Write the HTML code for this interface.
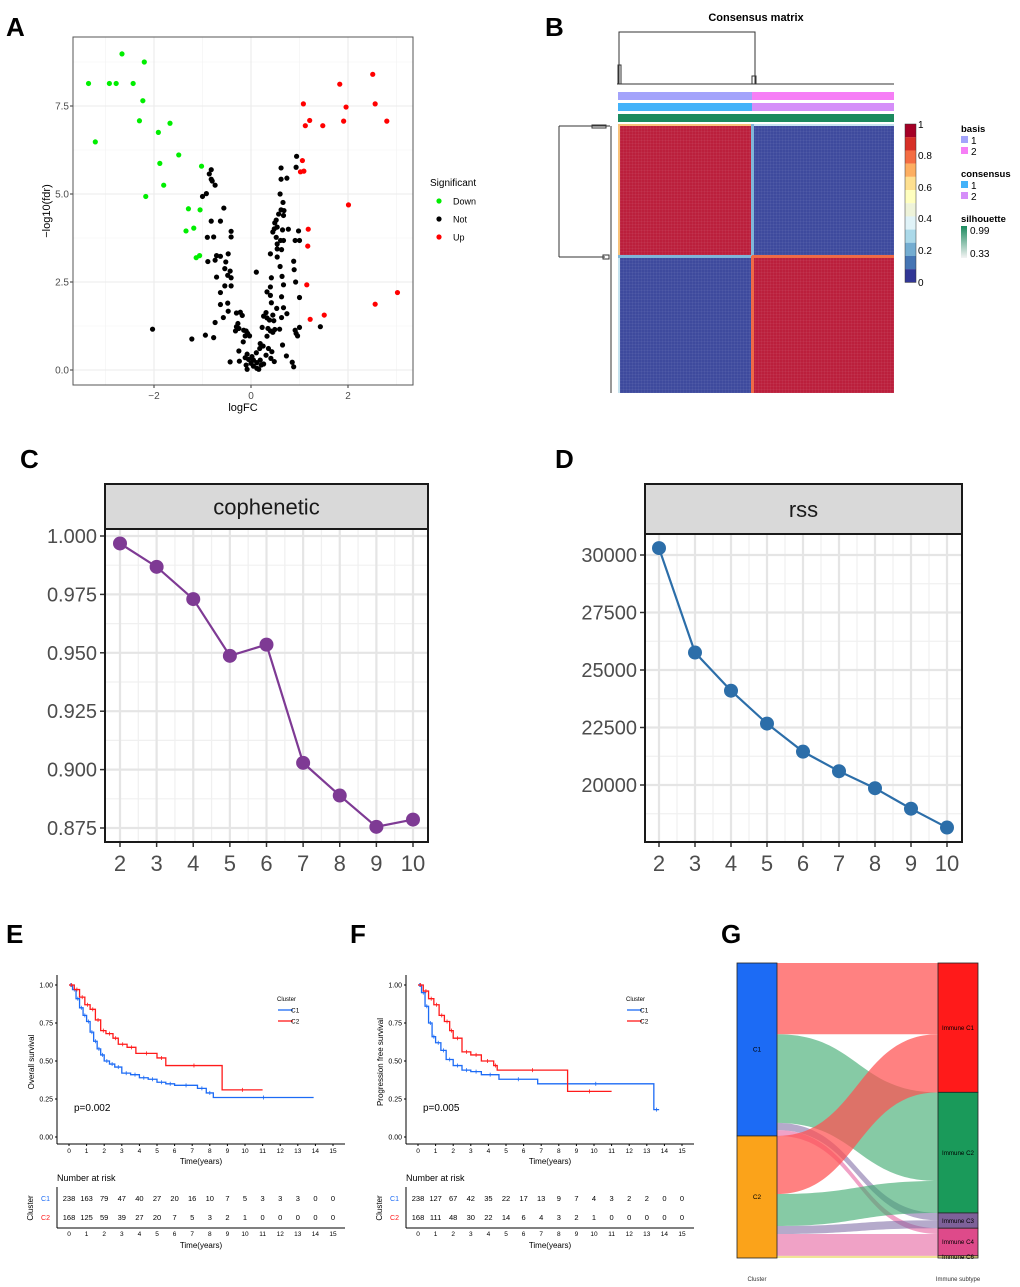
<!DOCTYPE html>
<html><head><meta charset="utf-8">
<style>
html,body{margin:0;padding:0;background:#fff;}
svg{display:block;font-family:"Liberation Sans",Arial,sans-serif;}
</style></head>
<body>
<svg id="fig" width="1020" height="1287" viewBox="0 0 1020 1287" xmlns="http://www.w3.org/2000/svg">
<rect width="1020" height="1287" fill="#fff"/>
<g font-weight="bold" font-size="26" fill="#000">
<text x="6" y="36">A</text>
<text x="545" y="36">B</text>
<text x="20" y="468">C</text>
<text x="555" y="468">D</text>
<text x="6" y="943">E</text>
<text x="350" y="943">F</text>
<text x="721" y="943">G</text>
</g>
<g id="pA"></g>
<g id="pB"></g>
<g id="pC"></g>
<g id="pD"></g>
<g id="pE"></g>
<g id="pF"></g>
<g id="pG"></g>
</svg>
<script>
// ---------- DATA ----------
const downX=[-2.66,-2.20,-3.35,-2.92,-2.78,-2.43,-2.23,-2.30,-1.67,-3.21,-1.91,-1.49,-1.88,-1.02,-1.80,-2.17,-1.29,-1.05,-1.18,-1.34,-1.13,-1.06];
const downY=[8.98,8.75,8.14,8.14,8.14,8.14,7.65,7.08,7.01,6.48,6.75,6.11,5.87,5.79,5.25,4.93,4.58,4.55,4.03,3.95,3.19,3.25];
const upX=[2.51,1.83,1.08,2.56,1.96,1.21,1.91,2.80,1.12,1.48,1.06,1.09,1.02,2.01,1.18,1.17,1.15,3.02,2.56,1.51,1.22];
const upY=[8.40,8.12,7.56,7.56,7.47,7.09,7.07,7.07,6.94,6.94,5.95,5.65,5.63,4.69,4.00,3.52,2.42,2.20,1.87,1.56,1.44];
const notX=[-0.82,-0.86,-0.82,-0.80,-0.74,-0.92,-1.00,-0.56,-0.82,-0.63,-0.41,-0.41,-0.77,-0.90,-0.47,-0.71,-0.63,-0.74,-0.52,-0.89,-0.54,-0.43,-0.48,-0.41,-0.71,-0.54,-0.41,-0.63,-0.63,-0.48,-0.47,-0.57,-0.74,-0.30,-0.22,-0.18,-0.27,-0.30,-0.25,-0.32,-0.15,-0.10,-0.07,-0.12,-0.03,-0.16,-0.25,-0.08,-0.12,-0.05,0.02,0.11,0.00,-0.10,0.05,0.12,0.21,0.26,-0.08,0.16,-0.43,-0.24,-2.03,-1.22,-0.94,-0.77,0.11,0.62,0.74,0.62,0.93,0.94,0.60,0.66,0.62,0.68,0.67,0.57,0.52,0.49,0.54,0.48,0.45,0.65,0.77,0.98,0.91,1.00,0.52,0.61,0.67,0.54,0.54,0.63,0.40,0.54,0.88,0.60,0.89,0.42,0.64,0.92,0.67,0.40,0.33,0.40,0.63,1.00,0.42,0.53,0.67,0.74,0.31,0.26,0.33,0.38,0.45,0.47,0.63,0.23,0.35,0.40,0.49,0.59,0.33,0.45,1.00,0.91,0.93,0.96,1.43,0.65,0.19,0.25,0.18,0.36,0.43,0.31,0.41,0.48,0.73,0.85,0.88,0.12,0.05,0.19];
const notY=[5.69,5.57,5.42,5.37,5.25,5.01,4.93,4.60,4.23,4.23,3.94,3.78,3.78,3.77,3.30,3.25,3.23,3.12,3.07,3.08,2.88,2.81,2.69,2.62,2.64,2.39,2.39,2.20,1.86,1.90,1.67,1.49,1.35,1.62,1.64,1.55,1.32,1.23,1.18,1.11,1.13,1.11,1.04,0.97,0.97,0.80,0.54,0.45,0.35,0.30,0.38,0.49,0.19,0.14,0.11,0.21,0.14,0.17,0.02,0.02,0.23,0.25,1.16,0.88,0.99,0.92,2.78,5.74,5.45,5.42,5.76,6.07,5.00,4.76,4.55,4.53,4.39,4.43,4.26,4.18,4.06,4.01,3.92,3.98,4.00,3.95,3.68,3.68,3.77,3.68,3.68,3.58,3.44,3.42,3.30,3.21,3.09,2.94,2.85,2.62,2.66,2.50,2.42,2.36,2.22,2.12,2.08,2.06,1.91,1.75,1.77,1.60,1.63,1.53,1.48,1.42,1.56,1.40,1.49,1.21,1.18,1.11,1.15,1.16,0.96,1.07,1.21,1.13,1.04,0.97,1.23,0.71,0.75,0.68,0.61,0.61,0.52,0.42,0.33,0.24,0.40,0.22,0.09,0.05,0.28,0.28];
const volcanoXTicks=[-2,0,2];
const volcanoYTicks=[0,2.5,5,7.5];

const kValues=[2,3,4,5,6,7,8,9,10];
const cophenetic=[0.9968,0.9868,0.973,0.9487,0.9535,0.9029,0.8889,0.8755,0.8786];
const copheneticTicks=[0.875,0.900,0.925,0.950,0.975,1.000];
const rss=[30300,25760,24100,22670,21450,20600,19860,18970,18150];
const rssTicks=[20000,22500,25000,27500,30000];

const osC1T=[0,0.2,0.4,0.6,0.8,1.0,1.2,1.4,1.6,1.8,2.0,2.3,2.6,3.0,3.5,4.0,4.5,5.0,5.5,6.0,7.3,7.8,8.2,13.9];
const osC1S=[1,0.97,0.91,0.85,0.80,0.76,0.69,0.63,0.58,0.54,0.50,0.48,0.46,0.42,0.41,0.39,0.38,0.36,0.35,0.34,0.32,0.29,0.26,0.26];
const osC2T=[0,0.3,0.6,0.9,1.2,1.5,1.8,2.1,2.5,2.8,3.3,3.8,5.0,5.5,8.7,11];
const osC2S=[1,0.97,0.92,0.87,0.84,0.77,0.70,0.68,0.65,0.61,0.59,0.55,0.52,0.47,0.31,0.31];
const pfsC1T=[0,0.2,0.4,0.6,0.8,1.0,1.3,1.6,2.0,2.5,3.0,3.6,4.6,6.8,13.4,13.7];
const pfsC1S=[1,0.95,0.86,0.75,0.66,0.62,0.57,0.51,0.47,0.44,0.43,0.41,0.38,0.35,0.18,0.18];
const pfsC2T=[0,0.3,0.6,0.9,1.2,1.5,1.8,2.0,2.5,3.0,3.6,4.3,4.5,8.5,11];
const pfsC2S=[1,0.96,0.91,0.87,0.80,0.76,0.70,0.65,0.56,0.54,0.50,0.47,0.44,0.30,0.30];
const osRiskC1=[238,163,79,47,40,27,20,16,10,7,5,3,3,3,0,0];
const osRiskC2=[168,125,59,39,27,20,7,5,3,2,1,0,0,0,0,0];
const pfsRiskC1=[238,127,67,42,35,22,17,13,9,7,4,3,2,2,0,0];
const pfsRiskC2=[168,111,48,30,22,14,6,4,3,2,1,0,0,0,0,0];
const survTicks=[0,0.25,0.5,0.75,1];

const sankeySources=["C1","C2"];
const sankeyTargets=["Immune C1","Immune C2","Immune C3","Immune C4","Immune C6"];
const flowC1=[98,122,10,8,0];
const flowC2=[80,44,11,30,3];

// ---------- HELPERS ----------
const NS="http://www.w3.org/2000/svg";
function mk(parent,tag,attrs,txt){const e=document.createElementNS(NS,tag);for(const k in attrs)e.setAttribute(k,attrs[k]);if(txt!==undefined)e.textContent=txt;parent.appendChild(e);return e;}
function lin(d0,d1,r0,r1){return v=>r0+(v-d0)/(d1-d0)*(r1-r0);}

// ---------- PANEL A ----------
(function(){
const g=document.getElementById('pA');
const L=73,R=413,T=37,B=385;
const x=lin(0,2,251,348), y=lin(0,7.5,370,106);
mk(g,'rect',{x:L,y:T,width:R-L,height:B-T,fill:'#fff'});
[-3,-1,1,3].forEach(v=>mk(g,'line',{x1:x(v),x2:x(v),y1:T,y2:B,stroke:'#f2f2f2','stroke-width':0.6}));
[1.25,3.75,6.25,8.75].forEach(v=>mk(g,'line',{x1:L,x2:R,y1:y(v),y2:y(v),stroke:'#f2f2f2','stroke-width':0.6}));
volcanoXTicks.forEach(v=>{mk(g,'line',{x1:x(v),x2:x(v),y1:T,y2:B,stroke:'#ebebeb','stroke-width':1.1});
 const t=mk(g,'text',{x:x(v),y:B+14,'font-size':10,fill:'#4d4d4d','text-anchor':'middle'},v===0?'0':(v<0?'\u2212'+(-v):String(v)));
 mk(g,'line',{x1:x(v),x2:x(v),y1:B,y2:B+3,stroke:'#333'});});
volcanoYTicks.forEach(v=>{mk(g,'line',{x1:L,x2:R,y1:y(v),y2:y(v),stroke:'#ebebeb','stroke-width':1.1});
 const t=mk(g,'text',{x:L-4,y:y(v)+3.5,'font-size':10,fill:'#4d4d4d','text-anchor':'end'},v.toFixed(1));
 mk(g,'line',{x1:L-3,x2:L,y1:y(v),y2:y(v),stroke:'#333'});});
mk(g,'rect',{x:L,y:T,width:R-L,height:B-T,fill:'none',stroke:'#555','stroke-width':1});
function pts(xs,ys,c,nm){xs.forEach((v,i)=>{const p=mk(g,'circle',{cx:x(v),cy:y(ys[i]),r:2.6,fill:c});});}
pts(notX,notY,'#000','point-not');pts(downX,downY,'#00ee00','point-down');pts(upX,upY,'#ff0000','point-up');
let t=mk(g,'text',{x:243,y:411,'font-size':11,fill:'#000','text-anchor':'middle'},'logFC');
t=mk(g,'text',{x:50,y:211,'font-size':11,fill:'#000','text-anchor':'middle',transform:'rotate(-90 50 211)'},'\u2212log10(fdr)');
mk(g,'text',{x:430,y:186,'font-size':10,fill:'#000'},'Significant');
[['Down','#00ee00',201],['Not','#000',219],['Up','#ff0000',237]].forEach(e=>{
 const lg=mk(g,'g',{});
 mk(lg,'circle',{cx:439,cy:e[2],r:2.6,fill:e[1]});mk(lg,'text',{x:453,y:e[2]+3.5,'font-size':9,fill:'#000'},e[0]);});
})();

// ---------- PANEL B ----------
(function(){
const g=document.getElementById('pB');
const L=618,R=894,T=124,B=393,SX=752,SY=256;
let t=mk(g,'text',{x:756,y:21,'font-size':11,'font-weight':'bold','text-anchor':'middle'},'Consensus matrix');
// top dendrogram
mk(g,'path',{d:`M619,84 V32 H755 V84 M617,84 H894 M618,84 V65 H621 V84 M752,84 V76 H756 V84`,fill:'none',stroke:'#333','stroke-width':1});
// annotation bars
const ann=[['annotation-basis',92,'#a3a3fb','#f67ef6'],['annotation-consensus',103,'#43b2f9','#d58ef9'],['annotation-silhouette',114,'#1b8a5e','#1b8a5e']];
ann.forEach(a=>{const ag=mk(g,'g',{});
 mk(ag,'rect',{x:L,y:a[1],width:SX-L,height:8,fill:a[2]});mk(ag,'rect',{x:SX,y:a[1],width:R-SX,height:8,fill:a[3]});});
// matrix
const red='#bb1f3c',blue='#3e4a9d';
mk(g,'rect',{x:L,y:T,width:SX-L,height:SY-T,fill:red});
mk(g,'rect',{x:SX,y:T,width:R-SX,height:SY-T,fill:blue});
mk(g,'rect',{x:L,y:SY,width:SX-L,height:B-SY,fill:blue});
mk(g,'rect',{x:SX,y:SY,width:R-SX,height:B-SY,fill:red});
mk(g,'defs',{}).innerHTML='<pattern id="grid" width="3" height="3" patternUnits="userSpaceOnUse"><path d="M3,0 V3 H0" fill="none" stroke="rgba(255,255,255,0.18)" stroke-width="0.5"/></pattern>';
mk(g,'rect',{x:L,y:T,width:R-L,height:B-T,fill:'url(#grid)'});
mk(g,'rect',{x:L,y:T,width:R-L,height:2,fill:'#f8c27a'});
mk(g,'rect',{x:L,y:T,width:2,height:SY-T,fill:'#f8c27a'});
mk(g,'rect',{x:L,y:SY,width:2,height:B-SY,fill:'#c6e3ef'});
mk(g,'rect',{x:SX,y:T,width:R-SX,height:2,fill:'#c6e3ef'});
mk(g,'rect',{x:L,y:SY-1,width:SX-L,height:3,fill:'#7fb6d8'});
mk(g,'rect',{x:SX-1,y:T,width:3,height:SY-T,fill:'#7fb6d8'});
mk(g,'rect',{x:SX,y:SY-1,width:R-SX,height:3,fill:'#ef6a46'});
mk(g,'rect',{x:SX-1,y:SY,width:3,height:B-SY,fill:'#ef6a46'});
// left dendrogram
mk(g,'path',{d:`M611,126 V393 M559,126 V257 M559,126 H610 M559,257 H605 M592,125 H606 V128 H592 Z M603,255 H609 V259 H603 Z`,fill:'none',stroke:'#333','stroke-width':1});
// colorbar
const cols=['#a50026','#d73027','#f46d43','#fdae61','#fee090','#ffffbf','#eef3d9','#e0f3f8','#abd9e9','#74add1','#4575b4','#313695'];
cols.forEach((c,i)=>mk(g,'rect',{x:905,y:124+i*13.2,width:11,height:13.3,fill:c}));
mk(g,'rect',{x:905,y:124,width:11,height:158.4,fill:'none',stroke:'#333','stroke-width':0.5});
[['1',128],['0.8',159],['0.6',191],['0.4',222],['0.2',254],['0',286]].forEach(l=>mk(g,'text',{x:918,y:l[1],'font-size':10,fill:'#000'},l[0]));
// legends
const lt=[['basis',132],['consensus',177],['silhouette',222]];
lt.forEach(l=>mk(g,'text',{x:961,y:l[1],'font-size':9.5,'font-weight':'bold'},l[0]));
[['#a3a3fb','1',136],['#f67ef6','2',147],['#43b2f9','1',181],['#d58ef9','2',192]].forEach(l=>{
 const lg=mk(g,'g',{});
 mk(lg,'rect',{x:961,y:l[2],width:7,height:7,fill:l[0]});mk(lg,'text',{x:971,y:l[2]+8,'font-size':10},l[1]);});
mk(g,'defs',{}).innerHTML='<linearGradient id="sil" x1="0" y1="0" x2="0" y2="1"><stop offset="0" stop-color="#1b8a5e"/><stop offset="1" stop-color="#f4f4f4"/></linearGradient>';
mk(g,'rect',{x:961,y:226,width:6,height:32,fill:'url(#sil)'});
mk(g,'text',{x:970,y:234,'font-size':10},'0.99');mk(g,'text',{x:970,y:257,'font-size':10},'0.33');
})();

// ---------- PANELS C & D ----------
function linePanel(id,L,R,stripT,stripB,B,xr,yPair,vals,ticks,fmt,color,title,pointName){
const g=document.getElementById(id);
const x=lin(2,10,xr[0],xr[1]), y=lin(yPair[0],yPair[1],yPair[2],yPair[3]);
mk(g,'rect',{x:L,y:stripT,width:R-L,height:stripB-stripT,fill:'#d9d9d9',stroke:'#1a1a1a','stroke-width':2});
let t=mk(g,'text',{x:(L+R)/2,y:(stripT+stripB)/2+8,'font-size':22,'text-anchor':'middle',fill:'#1a1a1a'},title);
// minor grids
const step=ticks[1]-ticks[0];
for(let v=ticks[0]-step/2;v<=ticks[ticks.length-1]+step;v+=step){const yy=y(v);if(yy>stripB&&yy<B)mk(g,'line',{x1:L,x2:R,y1:yy,y2:yy,stroke:'#f0f0f0','stroke-width':1.2});}
kValues.forEach((k,i)=>{if(i<kValues.length-1)mk(g,'line',{x1:x(k+0.5),x2:x(k+0.5),y1:stripB,y2:B,stroke:'#f0f0f0','stroke-width':1.2});});
ticks.forEach(v=>{mk(g,'line',{x1:L,x2:R,y1:y(v),y2:y(v),stroke:'#e5e5e5','stroke-width':2.2});
 mk(g,'line',{x1:L-5,x2:L,y1:y(v),y2:y(v),stroke:'#333','stroke-width':1.5});
 const tl=mk(g,'text',{x:L-8,y:y(v)+7,'font-size':20,fill:'#4d4d4d','text-anchor':'end'},fmt(v));});
kValues.forEach(k=>{mk(g,'line',{x1:x(k),x2:x(k),y1:stripB,y2:B,stroke:'#e5e5e5','stroke-width':2.2});
 mk(g,'line',{x1:x(k),x2:x(k),y1:B,y2:B+5,stroke:'#333','stroke-width':1.5});
 const tl=mk(g,'text',{x:x(k),y:B+29,'font-size':22,fill:'#4d4d4d','text-anchor':'middle'},String(k));});
mk(g,'rect',{x:L,y:stripB,width:R-L,height:B-stripB,fill:'none',stroke:'#1a1a1a','stroke-width':2});
const ln=mk(g,'polyline',{points:kValues.map((k,i)=>x(k)+','+y(vals[i])).join(' '),fill:'none',stroke:color,'stroke-width':2.2});

kValues.forEach((k,i)=>{const p=mk(g,'circle',{cx:x(k),cy:y(vals[i]),r:7,fill:color});});
}
linePanel('pC',105,428,484,529,842,[120,413],[1.0,0.875,536,828],cophenetic,copheneticTicks,v=>v.toFixed(3),'#7e3a94','cophenetic','point-cophenetic');
linePanel('pD',645,962,484,534,842,[659,947],[30000,20000,555,785],rss,rssTicks,v=>String(v),'#2c6ea9','rss','point-rss');

// ---------- PANELS E & F ----------
function survPanel(id,ox,c1T,c1S,c2T,c2S,r1,r2,ylab,pval){
const g=document.getElementById(id);
const AX=57+ox, x=lin(0,15,69+ox,333+ox), y=lin(0,1,1137,985);
const XB=1144;
mk(g,'line',{x1:AX,x2:AX,y1:975,y2:XB,stroke:'#000','stroke-width':1});
mk(g,'line',{x1:AX,x2:345+ox,y1:XB,y2:XB,stroke:'#000','stroke-width':1});
survTicks.forEach(v=>{mk(g,'line',{x1:AX-2,x2:AX,y1:y(v),y2:y(v),stroke:'#000'});
 const t=mk(g,'text',{x:AX-4,y:y(v)+2.5,'font-size':7,fill:'#000','text-anchor':'end'},v.toFixed(2));});
for(let k=0;k<=15;k++){mk(g,'line',{x1:x(k),x2:x(k),y1:XB,y2:XB+2,stroke:'#000'});
 mk(g,'text',{x:x(k),y:XB+9,'font-size':6.5,'text-anchor':'middle'},String(k));}
mk(g,'text',{x:201+ox,y:1164,'font-size':8,'text-anchor':'middle'},'Time(years)');
let t=mk(g,'text',{x:34+ox,y:1062,'font-size':8,'text-anchor':'middle',transform:`rotate(-90 ${34+ox} 1062)`},ylab);
mk(g,'text',{x:74+ox,y:1111,'font-size':10},pval);
function step(T,S,c,nm){let d='M'+x(T[0])+','+y(S[0]);for(let i=1;i<T.length;i++){d+=' H'+x(T[i])+' V'+y(S[i]);}
 const p=mk(g,'path',{d:d,fill:'none',stroke:c,'stroke-width':1.3});
 for(let i=1;i<T.length;i++){const xm=(x(T[i-1])+x(T[i]))/2;mk(g,'line',{x1:xm,x2:xm,y1:y(S[i-1])-2,y2:y(S[i-1])+2,stroke:c,'stroke-width':0.8});}}
step(c1T,c1S,'#1c6bf5','curve-c1');step(c2T,c2S,'#ff1a1a','curve-c2');
mk(g,'text',{x:277+ox,y:1001,'font-size':6},'Cluster');
[['C1','#1c6bf5',1010],['C2','#ff1a1a',1021]].forEach(e=>{const lg=mk(g,'g',{});
 mk(lg,'line',{x1:278+ox,x2:293+ox,y1:e[2],y2:e[2],stroke:e[1],'stroke-width':1.3});mk(lg,'text',{x:291+ox,y:e[2]+2.5,'font-size':6.5},e[0]);});
// risk table
mk(g,'text',{x:AX,y:1181,'font-size':9},'Number at risk');
mk(g,'line',{x1:AX,x2:AX,y1:1187,y2:1228,stroke:'#000'});
mk(g,'line',{x1:AX,x2:345+ox,y1:1228,y2:1228,stroke:'#000'});
for(let k=0;k<=15;k++){mk(g,'text',{x:x(k),y:1236,'font-size':6.5,'text-anchor':'middle'},String(k));
 const a=mk(g,'text',{x:x(k),y:1201,'font-size':7.5,'text-anchor':'middle'},String(r1[k]));
 const b=mk(g,'text',{x:x(k),y:1220,'font-size':7.5,'text-anchor':'middle'},String(r2[k]));}
mk(g,'text',{x:201+ox,y:1248,'font-size':8,'text-anchor':'middle'},'Time(years)');
mk(g,'text',{x:50+ox,y:1201,'font-size':7,fill:'#1c6bf5','text-anchor':'end'},'C1');
mk(g,'text',{x:50+ox,y:1220,'font-size':7,fill:'#ff1a1a','text-anchor':'end'},'C2');
mk(g,'text',{x:33+ox,y:1208,'font-size':8,'text-anchor':'middle',transform:`rotate(-90 ${33+ox} 1208)`},'Cluster');
}
survPanel('pE',0,osC1T,osC1S,osC2T,osC2S,osRiskC1,osRiskC2,'Overall survival','p=0.002');
survPanel('pF',349,pfsC1T,pfsC1S,pfsC2T,pfsC2S,pfsRiskC1,pfsRiskC2,'Progression free survival','p=0.005');

// ---------- PANEL G ----------
(function(){
const g=document.getElementById('pG');
const top=963,H=295,LX0=737,LX1=777,RX0=938,RX1=978;
const flows=[flowC1,flowC2];
const srcTot=flows.map(f=>f.reduce((a,b)=>a+b,0));
const total=srcTot[0]+srcTot[1];
const sc=H/total;
const tgtTot=sankeyTargets.map((_,j)=>flowC1[j]+flowC2[j]);
const tgtCols=['#ff1a1a','#1a9a5a','#7e6199','#de4a8a','#f0e080'];
const flowCols=['rgba(255,80,80,0.72)','rgba(60,170,110,0.62)','rgba(120,100,160,0.55)','rgba(230,100,160,0.6)','rgba(230,210,80,0.6)'];
const tgtY=[];let acc=top;tgtTot.forEach((v,j)=>{tgtY.push(acc);acc+=v*sc;});
const tgtOff=tgtY.slice();
let sy=top;
flows.forEach((f,i)=>{f.forEach((v,j)=>{if(v<=0)return;const h=v*sc;const ty=tgtOff[j];tgtOff[j]+=h;
 const mx=(LX1+RX0)/2;
 const d=`M${LX1},${sy} C${mx},${sy} ${mx},${ty} ${RX0},${ty} V${ty+h} C${mx},${ty+h} ${mx},${sy+h} ${LX1},${sy+h} Z`;
 const p=mk(g,'path',{d:d,fill:flowCols[j]});
 sy+=h;});});
let y0=top;const srcCols=['#1c6bf5','#fba31a'];
srcTot.forEach((v,i)=>{const h=v*sc;const r=mk(g,'rect',{x:LX0,y:y0,width:LX1-LX0,height:h,fill:srcCols[i],stroke:'#222','stroke-width':0.8});
 mk(g,'text',{x:(LX0+LX1)/2,y:y0+h/2+2,'font-size':6.5,'text-anchor':'middle'},sankeySources[i]);y0+=h;});
tgtTot.forEach((v,j)=>{const h=v*sc;const r=mk(g,'rect',{x:RX0,y:tgtY[j],width:RX1-RX0,height:h,fill:tgtCols[j],stroke:'#222','stroke-width':0.8});
 mk(g,'text',{x:(RX0+RX1)/2,y:tgtY[j]+h/2+2.2,'font-size':6.2,'text-anchor':'middle'},sankeyTargets[j]);});
mk(g,'text',{x:757,y:1281,'font-size':6,fill:'#333','text-anchor':'middle'},'Cluster');
mk(g,'text',{x:958,y:1281,'font-size':6,fill:'#333','text-anchor':'middle'},'Immune subtype');
})();
</script>
</body></html>
